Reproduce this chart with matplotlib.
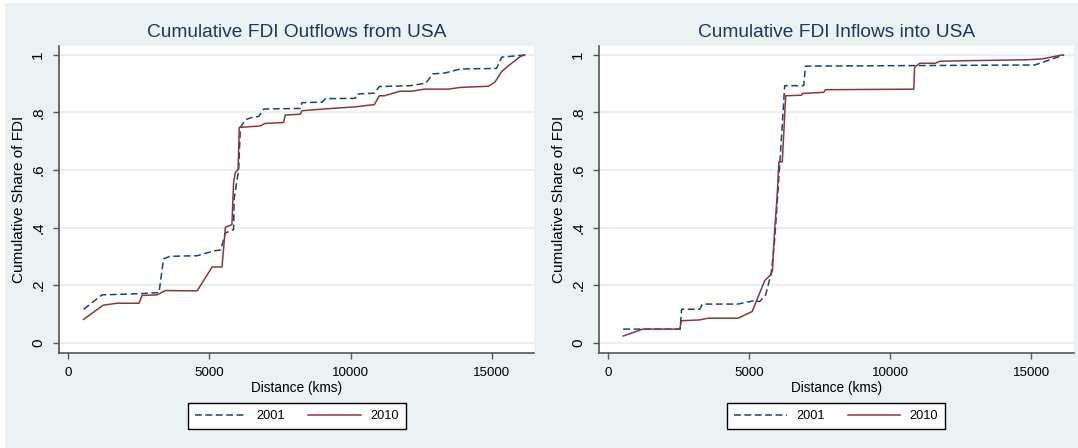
import matplotlib
matplotlib.use("Agg")
import matplotlib.pyplot as plt
from matplotlib.patches import Rectangle

# Outflows from USA (left panel)
out_dist_2001 = [550, 1200, 2500, 3220, 3380, 3600, 4570, 5170, 5400, 5570, 5800, 5860,
                 5880, 6040, 6100, 6280, 6520, 6750, 6930, 8220, 8280, 9000, 9110, 10170,
                 10230, 10840, 11020, 12120, 12670, 12910, 13340, 13890, 15170, 15350, 16200]
out_share_2001 = [0.116, 0.166, 0.170, 0.174, 0.291, 0.300, 0.302, 0.319, 0.322, 0.381, 0.391, 0.393,
                  0.500, 0.602, 0.748, 0.775, 0.783, 0.786, 0.812, 0.814, 0.834, 0.836, 0.848, 0.849,
                  0.864, 0.867, 0.890, 0.893, 0.902, 0.934, 0.937, 0.951, 0.953, 0.992, 1.0]
out_dist_2010 = [550, 1240, 1740, 2510, 2620, 3150, 3270, 3440, 4570, 5100, 5450, 5570, 5800,
                 5860, 5920, 6020, 6060, 6800, 6980, 7630, 7690, 8220, 8280, 9050, 10230, 10440,
                 10840, 11020, 11200, 11760, 12180, 12610, 13460, 13890, 14870, 15110, 15350,
                 15600, 16020, 16170]
out_share_2010 = [0.081, 0.130, 0.137, 0.137, 0.164, 0.166, 0.172, 0.181, 0.180, 0.263, 0.263, 0.401, 0.410,
                  0.556, 0.591, 0.602, 0.748, 0.753, 0.762, 0.765, 0.791, 0.794, 0.806, 0.812, 0.820, 0.823,
                  0.827, 0.858, 0.858, 0.874, 0.874, 0.881, 0.881, 0.887, 0.891, 0.905, 0.942,
                  0.963, 0.995, 1.0]

# Inflows into USA (right panel)
in_dist_2001 = [540, 2560, 2610, 3250, 3350, 4600, 5140, 5380, 5590, 5790, 5910, 6030, 6110,
                6265, 6940, 7000, 15130, 16170]
in_share_2001 = [0.047, 0.047, 0.116, 0.116, 0.134, 0.134, 0.145, 0.143, 0.166, 0.242, 0.358, 0.533, 0.649,
                 0.893, 0.893, 0.961, 0.965, 1.0]
in_dist_2010 = [540, 1240, 2550, 2600, 3250, 3550, 4610, 5110, 5560, 5770, 5830, 5910, 5990, 6060,
                6180, 6300, 6860, 6890, 7650, 7710, 10840, 10870, 11050, 11600, 11780, 12760,
                14830, 15380, 16110]
in_share_2010 = [0.023, 0.047, 0.047, 0.076, 0.079, 0.085, 0.085, 0.108, 0.216, 0.236, 0.25, 0.393, 0.498, 0.628,
                 0.628, 0.858, 0.860, 0.866, 0.870, 0.879, 0.881, 0.957, 0.971, 0.971, 0.978, 0.980,
                 0.983, 0.986, 1.0]

titles = ["Cumulative FDI Outflows from USA", "Cumulative FDI Inflows into USA"]
x_ticks = [0, 5000, 10000, 15000]
y_ticks = [0, 0.2, 0.4, 0.6, 0.8, 1.0]
y_tick_labels = ["0", ".2", ".4", ".6", ".8", "1"]

BG = "#eaf2f3"
NAVY = "#1a476f"
MAROON = "#90353b"
plt.rcParams["font.family"] = ["Liberation Sans", "DejaVu Sans"]

fig = plt.figure(figsize=(10.78, 4.48), dpi=100, facecolor="white")
fig.patches.append(Rectangle((5 / 1078, 0), 1, 445 / 448, transform=fig.transFigure,
                             facecolor=BG, edgecolor="none", zorder=-10))

ax1 = fig.add_axes([0.0549, 0.2127, 0.4407, 0.6853])
ax2 = fig.add_axes([0.5557, 0.2127, 0.4402, 0.6853])

panels = [
    (ax1, out_dist_2001, out_share_2001, out_dist_2010, out_share_2010),
    (ax2, in_dist_2001, in_share_2001, in_dist_2010, in_share_2010),
]

for i, (ax, d01, s01, d10, s10) in enumerate(panels):
    ax.set_facecolor("white")
    ax.plot(d01, s01, color=NAVY, lw=1.1, dashes=(4.5, 2.3), label="2001")
    ax.plot(d10, s10, color=MAROON, lw=1.1, label="2010")

    ax.set_xlim(-315, 16505)
    ax.set_ylim(-0.035, 1.032)
    ax.set_xticks(x_ticks)
    ax.set_xticklabels([str(t) for t in x_ticks], fontsize=9.6)
    ax.set_yticks(y_ticks)
    ax.set_yticklabels(y_tick_labels, rotation=90, va="center", fontsize=11)
    ax.grid(axis="y", color="#e8f0f1", lw=1.6)
    ax.set_axisbelow(True)

    for side in ["top", "right"]:
        ax.spines[side].set_visible(False)
    for side in ["left", "bottom"]:
        ax.spines[side].set_color("#555555")
        ax.spines[side].set_linewidth(1.2)
    ax.tick_params(direction="out", length=4, width=1, color="#555555", labelcolor="black")
    ax.tick_params(axis="x", pad=6)
    ax.tick_params(axis="y", pad=6)

    ax.set_title(titles[i], fontsize=13.8, color="#1c3763", pad=6)
    ax.set_xlabel("Distance (kms)", fontsize=9.8, labelpad=2)
    ax.set_ylabel("Cumulative Share of FDI", fontsize=11, labelpad=4)

    leg = ax.legend(loc="upper center", bbox_to_anchor=(0.5, -0.165), ncol=2,
                    prop={"size": 9.2}, frameon=True, fancybox=False,
                    edgecolor="black", facecolor="white", framealpha=1,
                    handlelength=4.1, handletextpad=0.75, columnspacing=1.8,
                    borderpad=0.55, borderaxespad=0)
    leg.get_frame().set_linewidth(1.0)

fig.savefig("out.png", dpi=100, facecolor=fig.get_facecolor())
